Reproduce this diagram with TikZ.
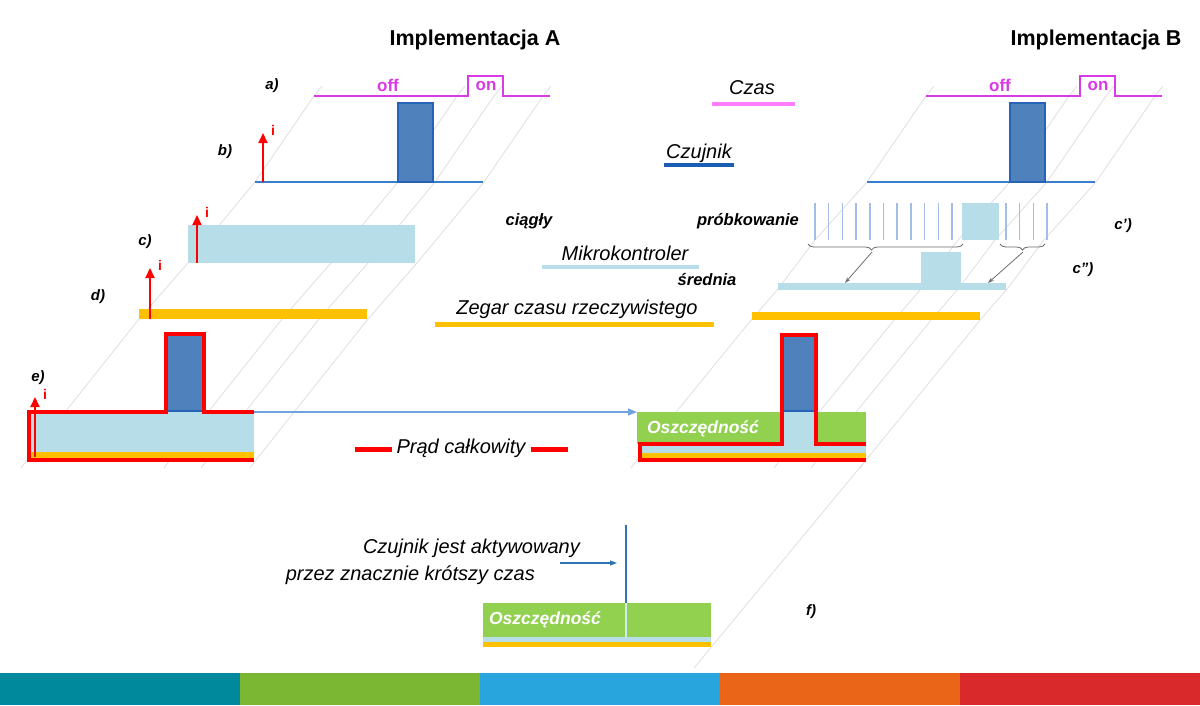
\documentclass[tikz,border=0pt]{standalone}
\usepackage{fontspec}
\setmainfont{Liberation Sans}
\usetikzlibrary{arrows.meta,decorations.pathreplacing}

\definecolor{sigmag}{HTML}{D83AE4}
\definecolor{czaspink}{HTML}{FF7CFF}
\definecolor{pulsefill}{HTML}{4F81BD}
\definecolor{pulseedge}{HTML}{2463B8}
\definecolor{sensblue}{HTML}{3A7DCF}
\definecolor{sensdark}{HTML}{1A5DB5}
\definecolor{mcublue}{HTML}{B7DEE8}
\definecolor{rtcorange}{HTML}{FFC000}
\definecolor{totred}{HTML}{FF0000}
\definecolor{savegreen}{HTML}{92D050}
\definecolor{sampleblue}{HTML}{A3BEE6}
\definecolor{guidegray}{HTML}{DCDCDC}
\definecolor{bracegray}{HTML}{6E6E6E}
\definecolor{flowblue}{HTML}{6FA3E0}
\definecolor{actblue}{HTML}{2E75B6}
\definecolor{barteal}{HTML}{00889C}
\definecolor{bargreen}{HTML}{7CB734}
\definecolor{barblue}{HTML}{29A5DD}
\definecolor{barorange}{HTML}{EA6518}
\definecolor{barred}{HTML}{D9292B}

\begin{document}
\begin{tikzpicture}[
	x=1pt, y=-1pt,
	headtext/.style={ font=\fontsize{21.5}{21.5}\selectfont\bfseries, inner sep=0pt },
	rowlabel/.style={ font=\fontsize{15}{15}\selectfont\bfseries\itshape, inner sep=0pt },
	captext/.style={ font=\fontsize{20}{20}\selectfont\itshape, inner sep=0pt },
	note/.style={ font=\fontsize{16.5}{16.5}\selectfont\bfseries\itshape, inner sep=0pt },
	sigtext/.style={ font=\fontsize{17}{17}\selectfont\bfseries, text=sigmag, inner sep=0pt },
	savetext/.style={ font=\fontsize{17.5}{17.5}\selectfont\bfseries\itshape, text=white, inner sep=0pt },
	itext/.style={ font=\fontsize{14}{14}\selectfont\bfseries, text=totred, inner sep=0pt },
	guide/.style={ guidegray, line width=0.7pt },
	sigline/.style={ sigmag, line width=2pt },
	sensline/.style={ sensblue, line width=2pt },
	pulse/.style={ fill=pulsefill, draw=pulseedge, line width=2pt },
	total/.style={ totred, line width=4pt, line join=miter },
	iarrow/.style={ totred, line width=2.2pt, -{Triangle[length=10pt,width=9pt]} },
	sampline/.style={ sampleblue, line width=1.5pt },
	bracedeco/.style={ bracegray, line width=0.8pt, decorate },
	avgarrow/.style={ bracegray, line width=0.8pt, -{Stealth[length=6pt,width=4pt]} },
	flowarrow/.style={ flowblue, line width=1.2pt, -{Triangle[length=9pt,width=7pt]} },
	hintarrow/.style={ actblue, line width=1.2pt, -{Triangle[length=7pt,width=5pt]} }
]

\fill[white] (0,0) rectangle (1200,705);
\useasboundingbox (0,0) rectangle (1200,705);

% guide lines
\foreach \t in {0,143,180,229} {
	\draw[guide] (322+\t,86) -- (314+\t,96) -- (255+\t,182) -- (188+\t,263) -- (139+\t,319) -- (27+\t,460) -- (21+\t,468);
	\draw[guide] (934+\t,86) -- (926+\t,96) -- (867+\t,182) -- (815+\t,240) -- (778+\t,289) -- (752+\t,319) -- (637+\t,460) -- (631+\t,468);
}
\draw[guide] (866,460) -- (694,668);

\node at (475,40) (implA) [headtext] {Implementacja A};
\node at (1096,40) (implB) [headtext] {Implementacja B};

% a) time
\foreach \x in {314,926} {
	\draw[sigline] (\x,96) -- (\x+154,96) -- (\x+154,76) -- (\x+189,76) -- (\x+189,96) -- (\x+236,96);
}
\node at (388,85) (offA) [sigtext] {off};
\node at (486,86) (onA) [sigtext] {on};
\node at (1000,85) (offB) [sigtext] {off};
\node at (1098,86) (onB) [sigtext] {on};

% b) sensor
\foreach \x in {255,867} {
	\draw[sensline] (\x,182) -- (\x+228,182);
	\draw[pulse] (\x+143,103) rectangle (\x+178,182);
}

% c), d) A
\fill[mcublue] (188,225) rectangle (415,263);
\fill[rtcorange] (139,309) rectangle (367,319);

% e) A
\fill[mcublue] (29,412) rectangle (254,452);
\fill[rtcorange] (29,452) rectangle (254,458);
\fill[pulsefill] (166,334) rectangle (204,412);
\draw[pulseedge, line width=1.5pt] (168,411) -- (202,411);
\draw[total] (254,412) -- (204,412) -- (204,334) -- (166,334) -- (166,412) -- (29,412) -- (29,460) -- (254,460);

\foreach \n/\x/\ya/\yb in {b/263/182/133, c/197/263/215, d/150/319/268, e/35/457/397} {
	\coordinate (ifoot\n) at (\x,\ya);
	\coordinate (ihead\n) at (\x,\yb);
	\draw[iarrow] (ifoot\n) -- (ihead\n);
	\node at (\x+10,\yb-3) (itext\n) [itext] {i};
}

% c') sampling
\foreach \k in {0,...,10} \draw[sampline] (815+13.7*\k,203) -- (815+13.7*\k,240);
\fill[mcublue] (962,203) rectangle (999,240);
\foreach \k in {0,...,3} \draw[sampline] (1006+13.7*\k,203) -- (1006+13.7*\k,240);

\coordinate (brLa) at (808,244);
\coordinate (brLb) at (963,244);
\coordinate (brRa) at (1000,244);
\coordinate (brRb) at (1045,244);
\draw[bracedeco, decoration={brace,mirror,amplitude=6pt,aspect=0.41}] (brLa) -- (brLb);
\draw[bracedeco, decoration={brace,mirror,amplitude=6pt}] (brRa) -- (brRb);

% c'') average
\fill[mcublue] (778,283) rectangle (1006,290);
\fill[mcublue] (921,252) rectangle (961,290);
\coordinate (tipL) at (872,252);
\coordinate (avgL) at (845,283);
\coordinate (tipR) at (1023,252);
\coordinate (avgR) at (988,283);
\draw[avgarrow] (tipL) -- (avgL);
\draw[avgarrow] (tipR) -- (avgR);

% d) B
\fill[rtcorange] (752,312) rectangle (980,320);

% e) B
\fill[savegreen] (637,412) rectangle (866,444);
\fill[mcublue] (640,444) rectangle (866,453);
\fill[rtcorange] (640,453) rectangle (866,458);
\fill[mcublue] (782,412) rectangle (816,444);
\fill[pulsefill] (782,335) rectangle (816,412);
\draw[pulseedge, line width=1.5pt] (784,411) -- (814,411);
\draw[total] (866,444) -- (816,444) -- (816,335) -- (782,335) -- (782,444) -- (640,444) -- (640,460) -- (866,460);
\node at (703,429) (saveB) [savetext] {Oszczędność};

\coordinate (eAend) at (254,412);
\coordinate (eBstart) at (637,412);
\draw[flowarrow] (eAend) -- (eBstart);

% f)
\fill[savegreen] (483,603) rectangle (711,637);
\fill[mcublue] (483,637) rectangle (711,642);
\fill[rtcorange] (483,642) rectangle (711,647);
\draw[mcublue!60, line width=1.5pt] (626,603) -- (626,637);
\node at (545,620) (saveF) [savetext] {Oszczędność};
\coordinate (actTop) at (626,525);
\coordinate (actBot) at (626,603);
\draw[actblue, line width=2pt] (actTop) -- (actBot);
\coordinate (hintA) at (560,563);
\coordinate (hintB) at (617,563);
\draw[hintarrow] (hintA) -- (hintB);
\node at (580,548) (actOne) [captext, anchor=east] {Czujnik jest aktywowany};
\node at (535,575) (actTwo) [captext, anchor=east] {przez znacznie krótszy czas};

% legend
\draw[czaspink, line width=4pt] (712,104) -- (795,104);
\node at (752,88) (czas) [captext] {Czas};
\draw[sensdark, line width=4pt] (664,165) -- (734,165);
\node at (699,153) (czujnik) [captext] {Czujnik};
\node at (529,221) (ciagly) [note] {ciągły};
\node at (748,221) (probki) [note] {próbkowanie};
\draw[mcublue, line width=4pt] (542,267) -- (699,267);
\node at (625,253) (mikro) [captext] {Mikrokontroler};
\node at (707,280) (srednia) [note] {średnia};
\draw[rtcorange, line width=5pt] (435,324) -- (714,324);
\node at (577,309) (zegar) [captext] {Zegar czasu rzeczywistego};
\draw[totred, line width=5pt] (355,449) -- (392,449);
\draw[totred, line width=5pt] (531,449) -- (568,449);
\node at (461,448) (prad) [captext] {Prąd całkowity};

% row labels
\node at (272,86) (laba) [rowlabel] {a)};
\node at (225,152) (labb) [rowlabel] {b)};
\node at (145,242) (labc) [rowlabel] {c)};
\node at (98,297) (labd) [rowlabel] {d)};
\node at (38,378) (labe) [rowlabel] {e)};
\node at (1123,226) (labcp) [rowlabel] {c’)};
\node at (1083,270) (labcpp) [rowlabel] {c”)};
\node at (811,612) (labf) [rowlabel] {f)};

% bottom bar
\foreach \c [count=\i from 0] in {barteal,bargreen,barblue,barorange,barred}
	\fill[\c] (240*\i,673) rectangle (240*\i+240,705);

\end{tikzpicture}
\end{document}
